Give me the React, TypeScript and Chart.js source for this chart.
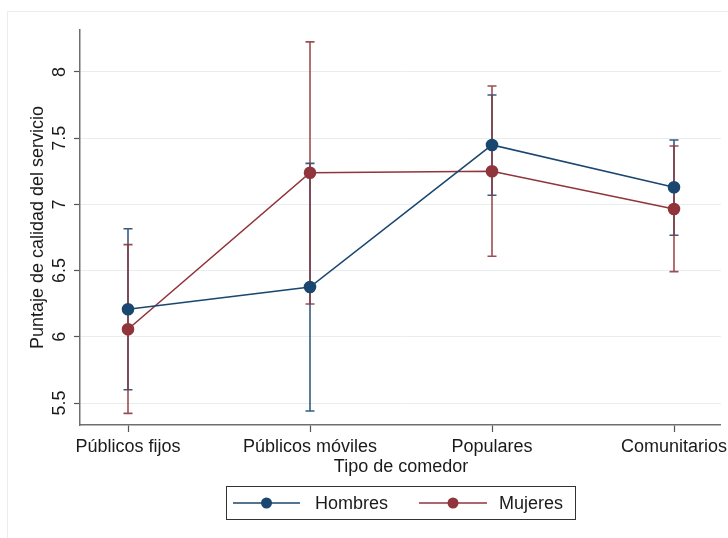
import React, { useEffect, useRef } from "react";
import { Chart, registerables } from "chart.js";

Chart.register(...registerables);

const categories = ["Públicos fijos", "Públicos móviles", "Populares", "Comunitarios"];
const seriesNames = ["Hombres", "Mujeres"];
const hombres = [6.208, 6.376, 7.449, 7.129];
const hombresLow = [5.6, 5.44, 7.069, 6.767];
const hombresHigh = [6.816, 7.31, 7.826, 7.486];
const mujeres = [6.057, 7.239, 7.25, 6.965];
const mujeresLow = [5.422, 6.248, 6.608, 6.492];
const mujeresHigh = [6.696, 8.227, 7.894, 7.441];
const yTicks = [5.5, 6, 6.5, 7, 7.5, 8];
const yTickLabels = ["5.5", "6", "6.5", "7", "7.5", "8"];

const BLUE = "#1a476f";
const RED = "#90353b";
const FONT = "'Liberation Sans', Arial, sans-serif";

export default function App() {
  const ref = useRef<HTMLCanvasElement | null>(null);

  useEffect(() => {
    document.body.style.margin = "0";
    const canvas = ref.current;
    if (!canvas) return;

    const errorBars = {
      id: "errorBars",
      beforeDatasetsDraw(chart: any) {
        const ctx = chart.ctx;
        const xs = chart.scales.x;
        const ys = chart.scales.y;
        const sets = [
          { low: hombresLow, high: hombresHigh, color: "rgba(26,71,111,0.88)" },
          { low: mujeresLow, high: mujeresHigh, color: "rgba(144,53,59,0.88)" },
        ];
        ctx.save();
        for (const s of sets) {
          ctx.strokeStyle = s.color;
          ctx.lineWidth = 1.6;
          for (let i = 0; i < categories.length; i++) {
            const x = xs.getPixelForValue(i);
            const y1 = ys.getPixelForValue(s.low[i]);
            const y2 = ys.getPixelForValue(s.high[i]);
            ctx.beginPath();
            ctx.moveTo(x, y1);
            ctx.lineTo(x, y2);
            ctx.moveTo(x - 4.5, y1);
            ctx.lineTo(x + 4.5, y1);
            ctx.moveTo(x - 4.5, y2);
            ctx.lineTo(x + 4.5, y2);
            ctx.stroke();
          }
        }
        ctx.restore();
      },
    };

    const decor = {
      id: "decor",
      beforeDraw(chart: any) {
        const ctx = chart.ctx;
        ctx.save();
        ctx.fillStyle = "#ffffff";
        ctx.fillRect(0, 0, chart.width, chart.height);
        ctx.strokeStyle = "#ececec";
        ctx.lineWidth = 1;
        ctx.beginPath();
        ctx.moveTo(7.5, chart.height);
        ctx.lineTo(7.5, 11.5);
        ctx.lineTo(chart.width, 11.5);
        ctx.stroke();
        ctx.restore();
      },
      afterDraw(chart: any) {
        const ctx = chart.ctx;
        const ys = chart.scales.y;
        const xs = chart.scales.x;
        ctx.save();
        ctx.fillStyle = "#1a1a1a";
        ctx.font = `18px ${FONT}`;
        ctx.textAlign = "center";
        ctx.textBaseline = "middle";
        yTicks.forEach((v, i) => {
          const y = ys.getPixelForValue(v);
          ctx.save();
          ctx.translate(60, y);
          ctx.rotate(-Math.PI / 2);
          ctx.fillText(yTickLabels[i], 0, 0);
          ctx.restore();
        });
        const ymid = (chart.chartArea.top + chart.chartArea.bottom) / 2;
        ctx.save();
        ctx.translate(38, ymid);
        ctx.rotate(-Math.PI / 2);
        ctx.fillText("Puntaje de calidad del servicio", 0, 0);
        ctx.restore();

        categories.forEach((c, i) => {
          ctx.fillText(c, xs.getPixelForValue(i), 447);
        });
        ctx.fillText("Tipo de comedor", 401, 467);

        // legend
        const lx = 226.5, ly = 486.5, lw = 349, lh = 33;
        ctx.strokeStyle = "#333333";
        ctx.lineWidth = 1;
        ctx.strokeRect(lx, ly, lw, lh);
        const cy = 503;
        const items = [
          { x0: 233, x1: 300, name: seriesNames[0], color: BLUE, tx: 315 },
          { x0: 419, x1: 487, name: seriesNames[1], color: RED, tx: 499 },
        ];
        for (const it of items) {
          ctx.strokeStyle = it.color;
          ctx.lineWidth = 1.6;
          ctx.beginPath();
          ctx.moveTo(it.x0, cy);
          ctx.lineTo(it.x1, cy);
          ctx.stroke();
          ctx.fillStyle = it.color;
          ctx.beginPath();
          ctx.arc((it.x0 + it.x1) / 2, cy, 5.5, 0, Math.PI * 2);
          ctx.fill();
          ctx.fillStyle = "#1a1a1a";
          ctx.textAlign = "left";
          ctx.fillText(it.name, it.tx, cy + 1);
        }
        ctx.restore();
      },
    };

    // keep category spacing like the reference (first category at 128px, 182px apart)
    const fitX = {
      id: "fitX",
      afterLayout(chart: any) {
        const xs = chart.scales.x;
        const unit = 182;
        const min = -(128 - xs.left) / unit;
        const max = min + (xs.right - xs.left) / unit;
        xs.min = min;
        xs.max = max;
        xs.configure();
      },
    };

    const chart = new Chart(canvas, {
      type: "line",
      data: {
        datasets: [
          {
            label: seriesNames[0],
            data: hombres.map((v, i) => ({ x: i, y: v })),
            borderColor: BLUE,
            backgroundColor: BLUE,
            pointBackgroundColor: BLUE,
            pointBorderColor: BLUE,
            pointRadius: 5.5,
            borderWidth: 1.6,
            tension: 0,
          },
          {
            label: seriesNames[1],
            data: mujeres.map((v, i) => ({ x: i, y: v })),
            borderColor: RED,
            backgroundColor: RED,
            pointBackgroundColor: RED,
            pointBorderColor: RED,
            pointRadius: 5.5,
            borderWidth: 1.6,
            tension: 0,
          },
        ],
      },
      options: {
        responsive: false,
        animation: false,
        layout: { padding: { top: 30, left: 0, right: -5, bottom: 53 } },
        plugins: {
          legend: { display: false },
          tooltip: { enabled: false },
        },
        scales: {
          x: {
            type: "linear",
            min: -0.264,
            max: 3.297,
            afterBuildTicks: (scale: any) => {
              scale.ticks = categories.map((_, i) => ({ value: i }));
            },
            afterFit: (scale: any) => {
              scale.height = 60;
            },
            ticks: { display: false },
            grid: {
              drawOnChartArea: false,
              drawTicks: true,
              tickLength: 7,
              tickColor: "#555555",
              tickWidth: 1.2,
            },
            border: { color: "#6e6e6e", width: 1.5 },
          },
          y: {
            type: "linear",
            min: 5.334,
            max: 8.317,
            afterBuildTicks: (scale: any) => {
              scale.ticks = yTicks.map((v) => ({ value: v }));
            },
            afterFit: (scale: any) => {
              scale.width = 80;
            },
            ticks: { display: false },
            grid: {
              color: "#e8eef0",
              lineWidth: 1,
              drawTicks: true,
              tickLength: 6,
              tickColor: "#555555",
              tickWidth: 1.2,
            },
            border: { color: "#6e6e6e", width: 1.5 },
          },
        },
      },
      plugins: [fitX, decor, errorBars],
    } as any);

    return () => chart.destroy();
  }, []);

  return (
    <div style={{ position: "absolute", left: 0, top: 0, width: 728, height: 538 }}>
      <canvas ref={ref} width={728} height={538} style={{ display: "block" }} />
    </div>
  );
}
